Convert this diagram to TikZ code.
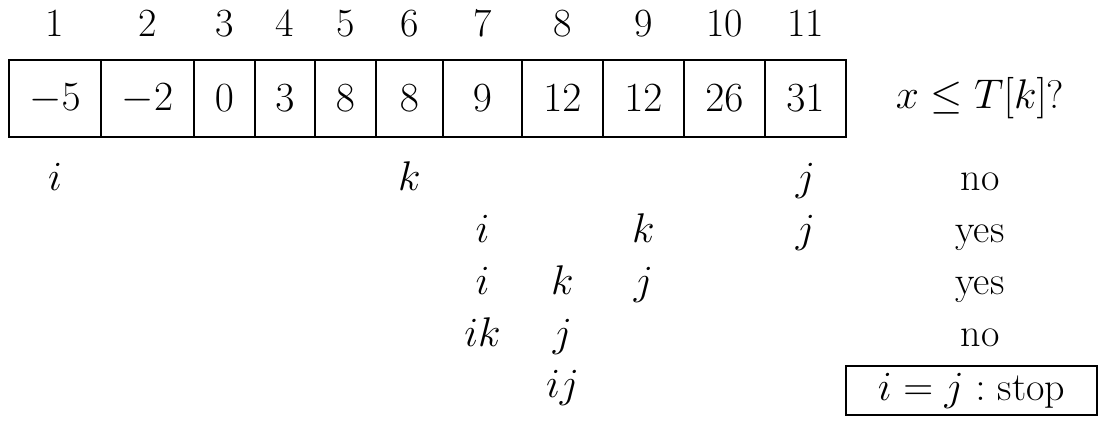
\documentclass[tikz,border=0pt]{standalone}
\usepackage{amsmath}
\begin{document}
\begin{tikzpicture}[x=0.5pt,y=-0.5pt,
  every node/.style={font=\fontsize{20}{24}\selectfont},
  cell/.style={draw, line width=0.8pt, inner sep=0pt, outer sep=0pt, minimum height=38.5pt},
  lab/.style={anchor=base, inner sep=0pt},
  stopbox/.style={draw, line width=0.8pt, minimum width=125.5pt, minimum height=24.5pt, inner sep=0pt}]
\useasboundingbox (0,0) rectangle (1109,426);
% cells
\node[cell, minimum width=46pt]   (c1)  at (55,98.5)    {$-5$};
\node[cell, minimum width=46.5pt] (c2)  at (147.5,98.5) {$-2$};
\node[cell, minimum width=30.5pt] (c3)  at (224.5,98.5) {$0$};
\node[cell, minimum width=30pt]   (c4)  at (285,98.5)   {$3$};
\node[cell, minimum width=30.5pt] (c5)  at (345.5,98.5) {$8$};
\node[cell, minimum width=33.5pt] (c6)  at (409.5,98.5) {$8$};
\node[cell, minimum width=39.5pt] (c7)  at (482.5,98.5) {$9$};
\node[cell, minimum width=40.5pt] (c8)  at (562.5,98.5) {$12$};
\node[cell, minimum width=40.5pt] (c9)  at (643.5,98.5) {$12$};
\node[cell, minimum width=40.5pt] (c10) at (724.5,98.5) {$26$};
\node[cell, minimum width=40.5pt] (c11) at (805.5,98.5) {$31$};
% indices
\node[lab] (n1)  at (55,37)    {1};
\node[lab] (n2)  at (147.5,37) {2};
\node[lab] (n3)  at (224.5,37) {3};
\node[lab] (n4)  at (285,37)   {4};
\node[lab] (n5)  at (345.5,37) {5};
\node[lab] (n6)  at (409.5,37) {6};
\node[lab] (n7)  at (482.5,37) {7};
\node[lab] (n8)  at (562.5,37) {8};
\node[lab] (n9)  at (643.5,37) {9};
\node[lab] (n10) at (724.5,37) {10};
\node[lab] (n11) at (805.5,37) {11};
% question
\node (q) at (980,98.5) {$x \le T[k]$?};
% row 1
\node[lab] (r1i) at (55,191)    {$i$};
\node[lab] (r1k) at (409.5,191) {$k$};
\node[lab] (r1j) at (805.5,191) {$j$};
\node[lab] (a1)  at (980,191)   {no};
% row 2
\node[lab] (r2i) at (482.5,242.75) {$i$};
\node[lab] (r2k) at (643.5,242.75) {$k$};
\node[lab] (r2j) at (805.5,242.75) {$j$};
\node[lab] (a2)  at (980,242.75)   {yes};
% row 3
\node[lab] (r3i) at (482.5,294.5) {$i$};
\node[lab] (r3k) at (562.5,294.5) {$k$};
\node[lab] (r3j) at (643.5,294.5) {$j$};
\node[lab] (a3)  at (980,294.5)   {yes};
% row 4
\node[lab] (r4ik) at (482.5,346.25) {$ik$};
\node[lab] (r4j)  at (562.5,346.25) {$j$};
\node[lab] (a4)   at (980,346.25)   {no};
% row 5
\node[lab] (r5ij) at (562.5,398) {$ij$};
\node[stopbox] (stop) at (971.5,390.5) {$i = j :$ stop};
\end{tikzpicture}
\end{document}
